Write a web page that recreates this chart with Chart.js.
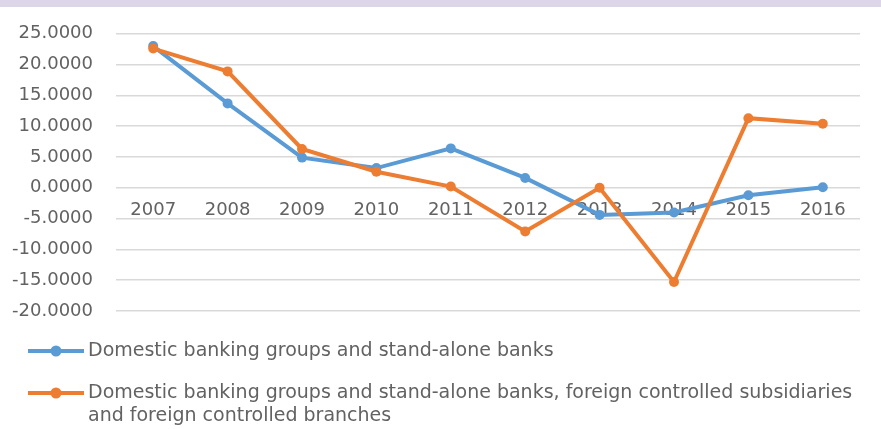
<!DOCTYPE html>
<html>
<head>
<meta charset="utf-8">
<script src="https://cdn.jsdelivr.net/npm/chart.js@4.4.1/dist/chart.umd.min.js"></script>
<style>
  html, body { margin: 0; padding: 0; background: #fff; }
  #wrap { width: 881px; height: 429px; position: relative; }
</style>
</head>
<body>
<div id="wrap"><canvas id="chart"></canvas></div>
<script>
var years = ['2007', '2008', '2009', '2010', '2011', '2012', '2013', '2014', '2015', '2016'];
var domestic = [23.0, 13.7, 4.9, 3.2, 6.4, 1.6, -4.4, -4.0, -1.2, 0.1];
var domesticAndForeign = [22.6, 18.9, 6.3, 2.6, 0.2, -7.1, 0.0, -15.3, 11.3, 10.4];
var yTicks = { min: -20, max: 25, step: 5 };

var seriesNames = [
  'Domestic banking groups and stand-alone banks',
  'Domestic banking groups and stand-alone banks, foreign controlled subsidiaries and foreign controlled branches'
];

var BLUE = '#5b9bd5';
var ORANGE = '#ed7d31';
var TEXT = '#626262';
var FONT = 'DejaVu Sans';
var AXIS_SIZE = 18;
var LEGEND_SIZE = 19;

// lavender strip across the top + legend under the plot
var frame = {
  id: 'frame',
  beforeDraw: function(chart) {
    var ctx = chart.ctx;
    ctx.save();
    ctx.fillStyle = '#ddd6e8';
    ctx.fillRect(0, 0, chart.width, 7);
    ctx.restore();
  },
  afterDraw: function(chart) {
    var ctx = chart.ctx;
    var rows = [351, 393];
    var textX = 88, maxW = 864 - textX, lineH = 23;
    ctx.save();
    ctx.font = LEGEND_SIZE + 'px ' + FONT;
    ctx.textBaseline = 'middle';
    chart.data.datasets.forEach(function(ds, i) {
      var y = rows[i];
      ctx.strokeStyle = ds.borderColor;
      ctx.lineWidth = 4;
      ctx.beginPath();
      ctx.moveTo(28, y);
      ctx.lineTo(84, y);
      ctx.stroke();
      ctx.fillStyle = ds.borderColor;
      ctx.beginPath();
      ctx.arc(56, y, 5.5, 0, Math.PI * 2);
      ctx.fill();

      // simple word wrap
      ctx.fillStyle = TEXT;
      var words = ds.label.split(' ');
      var line = '';
      words.forEach(function(w) {
        var test = line ? line + ' ' + w : w;
        if (ctx.measureText(test).width > maxW && line) {
          ctx.fillText(line, textX, y);
          line = w;
          y += lineH;
        } else {
          line = test;
        }
      });
      ctx.fillText(line, textX, y);
    });
    ctx.restore();
  }
};

var ctx = document.getElementById('chart');
new Chart(ctx, {
  type: 'line',
  data: {
    labels: years,
    datasets: [{
      label: seriesNames[0],
      data: domestic,
      borderColor: BLUE,
      backgroundColor: BLUE,
      borderWidth: 4,
      pointRadius: 5,
      pointBorderWidth: 0,
      tension: 0,
      order: 1
    }, {
      label: seriesNames[1],
      data: domesticAndForeign,
      borderColor: ORANGE,
      backgroundColor: ORANGE,
      borderWidth: 4,
      pointRadius: 5,
      pointBorderWidth: 0,
      tension: 0,
      order: 0
    }]
  },
  options: {
    responsive: true,
    maintainAspectRatio: false,
    animation: false,
    layout: { padding: { left: 0, right: 21, top: 11, bottom: 118 } },
    plugins: {
      legend: { display: false },
      tooltip: { enabled: false }
    },
    scales: {
      x: {
        position: { y: 0 },
        offset: true,
        grid: { display: false },
        border: { display: false },
        ticks: {
          color: TEXT,
          font: { family: FONT, size: AXIS_SIZE },
          padding: 4,
          maxRotation: 0
        },
        afterFit: function(scale) { scale.height = 0; }
      },
      y: {
        min: yTicks.min,
        max: yTicks.max,
        border: { display: false },
        grid: { color: '#d9d9d9', lineWidth: 1.5, drawTicks: false },
        ticks: {
          stepSize: yTicks.step,
          color: TEXT,
          font: { family: FONT, size: AXIS_SIZE },
          padding: 23,
          callback: function(v) { return v.toFixed(4); }
        },
        afterFit: function(scale) { scale.width = 116; }
      }
    }
  },
  plugins: [frame]
});
</script>
</body>
</html>
